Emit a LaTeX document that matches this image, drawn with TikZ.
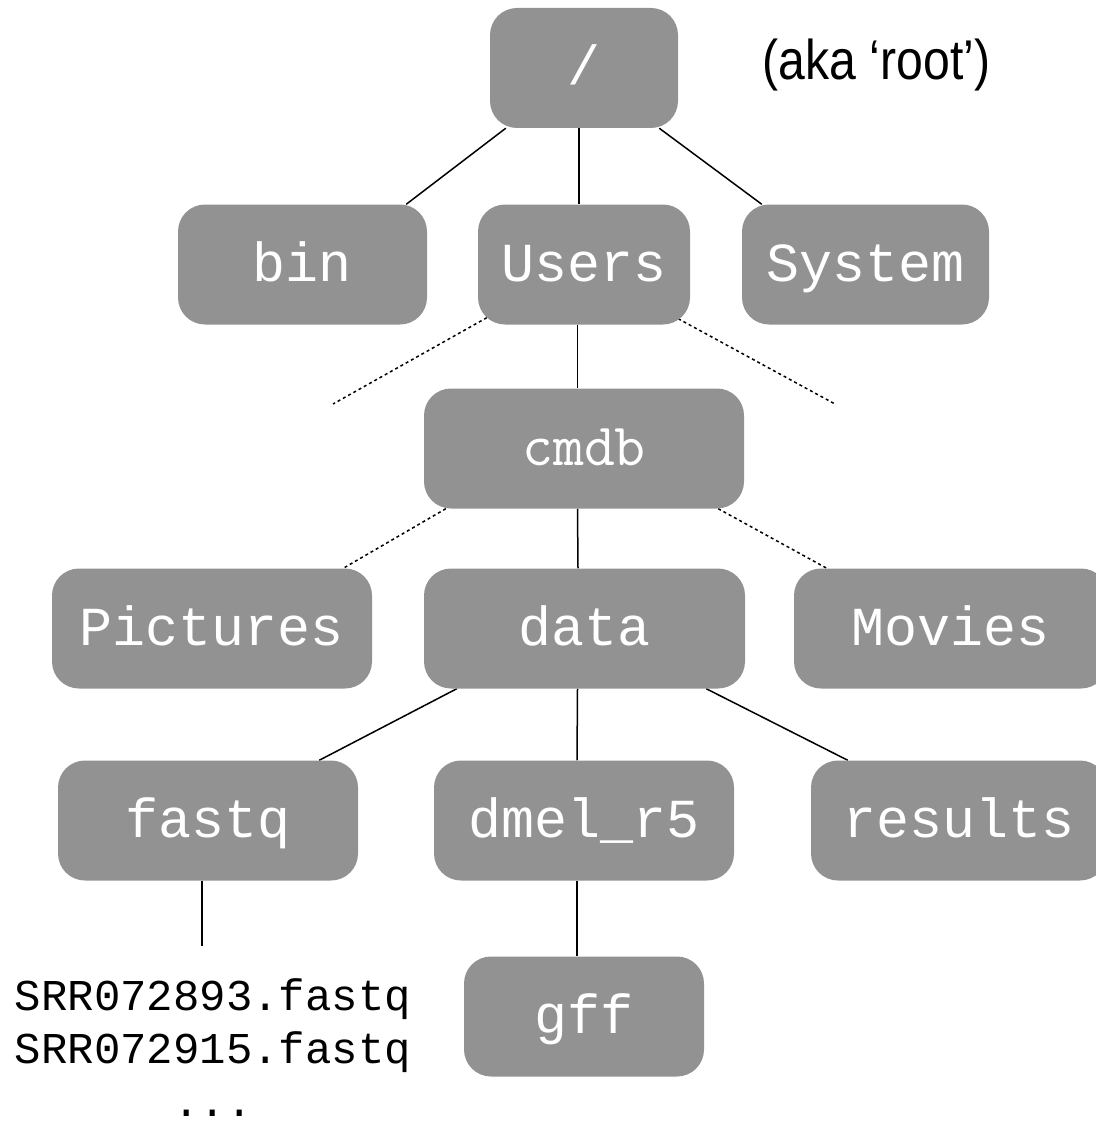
\documentclass[tikz,border=0pt]{standalone}
\usepackage{fontspec}
\newfontfamily\cour{Liberation Mono}
\newfontfamily\labelsans{Liberation Sans}
\usetikzlibrary{calc,backgrounds}
\definecolor{boxgray}{HTML}{929292}
\tikzset{
  dirbox/.style={fill=boxgray, rounded corners=27pt, inner sep=0pt, text=white,
    font=\cour\fontsize{55}{55}\selectfont, text height=34pt, text depth=0pt,
    minimum height=120pt},
  link/.style={line width=1.5pt, draw=black},
  dotlink/.style={line width=1.5pt, draw=black, dash pattern=on 3pt off 3pt},
  filetext/.style={inner sep=0pt, font=\cour\fontsize{44}{44}\selectfont, anchor=base},
}
\begin{document}
\begin{tikzpicture}[x=1pt,y=-1pt]
\useasboundingbox (0,0) rectangle (1095,1126);
% nodes
\node[dirbox, minimum width=188pt] (root) at (584,68) {/};
\node[inner sep=0pt, font=\labelsans\fontsize{56}{56}\selectfont] (aka) at (876.5,65) {\scalebox{0.86}[1]{(aka ‘root’)}};
\node[dirbox, minimum width=249pt] (bin) at (302.5,264.5) {bin};
\node[dirbox, minimum width=212pt] (users) at (584,264.5) {Users};
\node[dirbox, minimum width=247pt] (system) at (865.5,264.5) {System};
\node[dirbox, minimum width=320pt, font=\ttfamily\fontsize{60}{60}\selectfont, text height=33pt] (cmdb) at (584,448.5) {cmdb};
\node[dirbox, minimum width=320pt] (pictures) at (212,628.5) {Pictures};
\node[dirbox, minimum width=321pt] (data) at (584.5,628.5) {data};
\node[dirbox, minimum width=314pt] (movies) at (951,628.5) {Movies};
\node[dirbox, minimum width=300pt] (fastq) at (208,820.5) {fastq};
\node[dirbox, minimum width=300pt] (dmel) at (584,820.5) {dmel\_r5};
\node[dirbox, minimum width=296pt] (results) at (959,820.5) {results};
\node[dirbox, minimum width=240pt] (gff) at (584,1016.5) {gff};
\node[filetext] (srrA) at (213,1010) {SRR072893.fastq};
\node[filetext] (srrB) at (213,1063) {SRR072915.fastq};
\node[filetext] (more) at (213,1116) {...};
% free ends
\coordinate (ul) at (333,404);
\coordinate (ur) at (835,404);
\coordinate (fq) at (202,946);
% connectors
\begin{pgfonlayer}{background}
\draw[link] ($(root.south west)+(16,0)$) -- ($(bin.north east)+(-21,0)$);
\draw[link] ($(root.south)+(-5,0)$) -- ($(users.north)+(-5,0)$);
\draw[link] ($(root.south east)+(-19,0)$) -- ($(system.north west)+(20,0)$);
\draw[dotlink] ($(users.south west)+(9,-7)$) -- (ul);
\draw[dotlink] ($(users.south east)+(-12,-6)$) -- (ur);
\draw[link] ($(users.south)+(-6.5,0)$) -- ($(cmdb.north)+(-6.5,0)$);
\draw[dotlink] ($(cmdb.south west)+(22,0)$) -- ($(pictures.north east)+(-29,0)$);
\draw[dotlink] ($(cmdb.south east)+(-26,0)$) -- ($(movies.north west)+(33,0)$);
\draw[link] ($(cmdb.south)+(-6.5,0)$) -- ($(data.north)+(-6.5,0)$);
\draw[link] ($(data.south west)+(33,0)$) -- ($(fastq.north east)+(-39,0)$);
\draw[link] ($(data.south)+(-7,0)$) -- ($(dmel.north)+(-7,0)$);
\draw[link] ($(data.south east)+(-39,0)$) -- ($(results.north west)+(37,0)$);
\draw[link] ($(fastq.south)+(-6,0)$) -- (fq);
\draw[link] ($(dmel.south)+(-7,0)$) -- ($(gff.north)+(-7,0)$);
\end{pgfonlayer}
\end{tikzpicture}
\end{document}
